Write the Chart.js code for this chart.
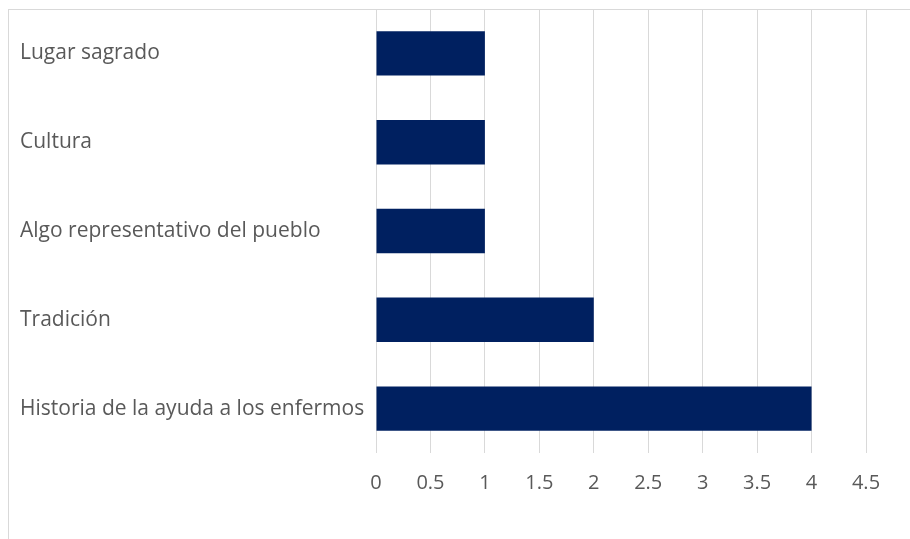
<!DOCTYPE html>
<html>
<head>
<meta charset="utf-8">
<script src="https://cdn.jsdelivr.net/npm/chart.js@4/dist/chart.umd.min.js"></script>
<style>
  html, body { margin: 0; padding: 0; background: #fff; }
  #wrap { position: relative; width: 910px; height: 539px; overflow: hidden; }
  #frame { position: absolute; left: 8px; top: 9px; width: 1000px; height: 1000px;
           border-left: 1px solid #d9d9d9; border-top: 1px solid #d9d9d9; }
  canvas { position: absolute; left: 0; top: 0; }
</style>
</head>
<body>
<div id="wrap">
  <canvas id="bars" width="910" height="539"></canvas>
  <div id="frame"></div>
</div>
<script>
  const categories = ['Lugar sagrado', 'Cultura', 'Algo representativo del pueblo', 'Tradición', 'Historia de la ayuda a los enfermos'];
  const values = [1, 1, 1, 2, 4];
  const tickLabels = ['0', '0.5', '1', '1.5', '2', '2.5', '3', '3.5', '4', '4.5'];

  new Chart(document.getElementById('bars'), {
    type: 'bar',
    data: {
      labels: categories,
      datasets: [{
        data: values,
        backgroundColor: '#002060',
        borderWidth: 0,
        barPercentage: 0.5,
        categoryPercentage: 1
      }]
    },
    options: {
      indexAxis: 'y',
      responsive: false,
      animation: false,
      layout: { padding: { left: 20, top: 9, right: 44, bottom: 0 } },
      plugins: { legend: { display: false }, tooltip: { enabled: false } },
      scales: {
        x: {
          min: 0, max: 4.5,
          border: { display: false },
          grid: { color: '#d9d9d9', lineWidth: 1, drawTicks: false },
          ticks: {
            stepSize: 0.5, padding: 18, color: '#595959',
            font: { family: 'Open Sans', size: 20 },
            callback: (v, i) => tickLabels[i]
          },
          afterFit: (s) => { s.height = 86; }
        },
        y: {
          border: { display: false },
          grid: { display: false, drawTicks: false },
          ticks: { crossAlign: 'far', color: '#595959', font: { family: 'Open Sans', size: 21 } },
          afterFit: (s) => { s.width = 356; s.paddingTop = 0; s.paddingBottom = 0; }
        }
      }
    }
  });
</script>
</body>
</html>
